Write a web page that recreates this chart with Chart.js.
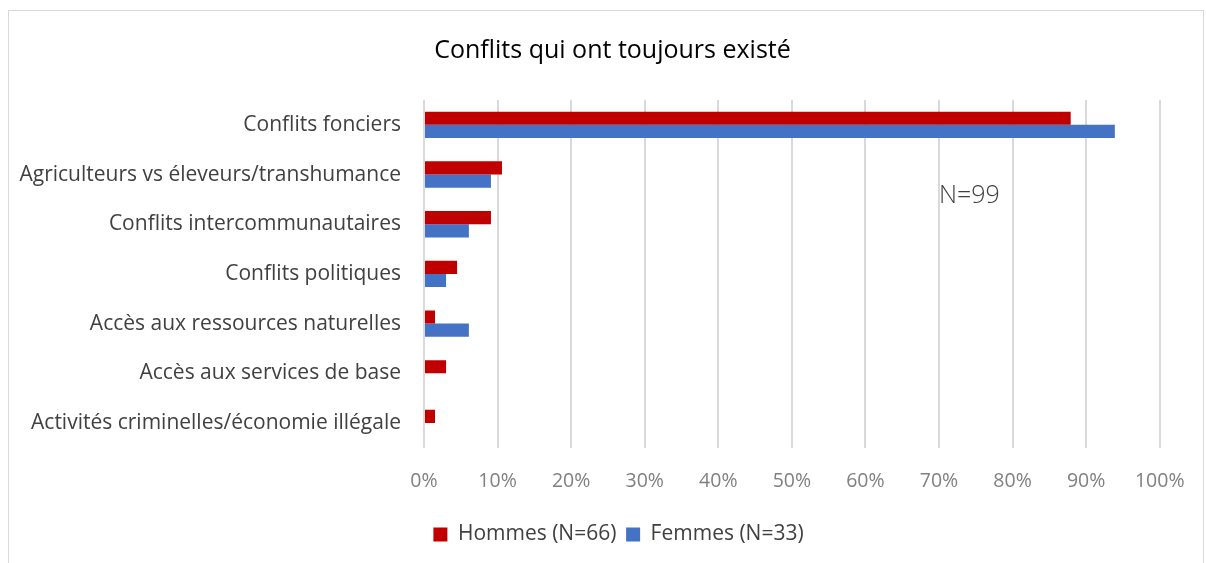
<!DOCTYPE html>
<html lang="fr">
<head>
<meta charset="UTF-8">
<title>Conflits qui ont toujours existé</title>
<script src="https://cdn.jsdelivr.net/npm/chart.js"></script>
<style>
  body { margin: 0; background: #fff; }
  #wrap { position: relative; width: 1206px; height: 563px; }
  #frame { position: absolute; left: 8px; top: 10px; width: 1194px; height: 560px; border: 1px solid #d9d9d9; }
  canvas { position: absolute; left: 0; top: 0; }
</style>
</head>
<body>
<div id="wrap">
  <div id="frame"></div>
  <canvas id="chart" width="1206" height="563"></canvas>
</div>
<script>
// data (percentages)
const categories = [
  'Conflits fonciers',
  'Agriculteurs vs éleveurs/transhumance',
  'Conflits intercommunautaires',
  'Conflits politiques',
  'Accès aux ressources naturelles',
  'Accès aux services de base',
  'Activités criminelles/économie illégale'
];
const hommes = [87.9, 10.6, 9.1, 4.5, 1.5, 3.0, 1.5];
const femmes = [93.9, 9.1, 6.1, 3.0, 6.1, 0, 0];
const seriesNames = ['Hommes (N=66)', 'Femmes (N=33)'];
const noteText = 'N=99';

const fontFam = '"Open Sans", sans-serif';

// draws the N=99 note inside the plot
const notePlugin = {
  id: 'note',
  afterDatasetsDraw(chart) {
    const { ctx, scales } = chart;
    const x = scales.x.getPixelForValue(70);
    const y1 = scales.y.getPixelForValue(1), y2 = scales.y.getPixelForValue(2);
    const y = y1 + (y2 - y1) * 0.42;
    ctx.save();
    ctx.font = '300 25px ' + fontFam;
    ctx.fillStyle = '#404040';
    ctx.textAlign = 'left';
    ctx.textBaseline = 'middle';
    ctx.fillText(noteText, x, y);
    ctx.restore();
  }
};

// excel centres title and legend a bit further right than chart.js does
const nudgePlugin = {
  id: 'nudge',
  afterLayout(chart) {
    const t = chart.titleBlock, l = chart.legend;
    if (t) { t.left += 29; t.right += 29; }
    if (l) { l.left += 35; l.right += 35; }
  }
};

const ctx = document.getElementById('chart');
new Chart(ctx, {
  type: 'bar',
  data: {
    labels: categories,
    datasets: [
      { label: seriesNames[0], data: hommes, backgroundColor: '#c00000' },
      { label: seriesNames[1], data: femmes, backgroundColor: '#4472c4' }
    ]
  },
  options: {
    indexAxis: 'y',
    responsive: false,
    animation: false,
    categoryPercentage: 0.53,
    barPercentage: 1.0,
    layout: { padding: { left: 0, right: 39, top: 0, bottom: 8 } },
    plugins: {
      title: {
        display: true,
        text: 'Conflits qui ont toujours existé',
        color: '#000',
        font: { family: fontFam, size: 25, weight: 'normal' },
        padding: { top: 36, bottom: 34 }
      },
      legend: {
        position: 'bottom',
        labels: {
          color: '#404040',
          font: { family: fontFam, size: 21 },
          boxWidth: 14,
          boxHeight: 14,
          padding: 9.75
        }
      },
      tooltip: { enabled: false }
    },
    scales: {
      x: {
        min: 0,
        max: 100,
        ticks: {
          stepSize: 10,
          color: '#808080',
          font: { family: fontFam, size: 19.5 },
          padding: 21.5,
          callback: v => v + '%'
        },
        grid: { color: '#d9d9d9', lineWidth: 2, drawTicks: false },
        border: { display: false }
      },
      y: {
        afterFit: s => { s.width = 424; },
        ticks: {
          color: '#404040',
          font: { family: fontFam, size: 21 },
          padding: 23
        },
        grid: { display: false, drawTicks: false },
        border: { display: false }
      }
    }
  },
  plugins: [notePlugin, nudgePlugin]
});
</script>
</body>
</html>
